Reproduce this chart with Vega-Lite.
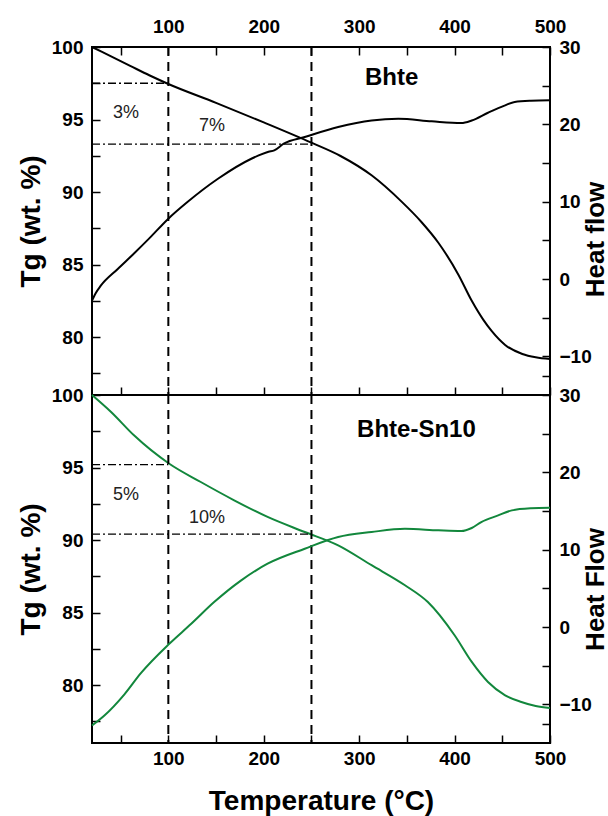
{
  "$schema": "https://vega.github.io/schema/vega-lite/v6.json",
  "padding": {"left": 16, "top": 16, "right": 0, "bottom": 0},
  "spacing": 0,
  "bounds": "flush",
  "config": {
    "font": "Liberation Sans",
    "view": {"stroke": "#000", "strokeWidth": 2},
    "axis": {
      "domain": false, "grid": false,
      "labelFont": "Liberation Sans", "labelFontSize": 19, "labelFontWeight": "bold", "labelColor": "#000",
      "labelFlush": false, "labelOverlap": false, "labelPadding": 17,
      "tickColor": "#000", "tickWidth": 1.5, "tickSize": -8,
      "titleFont": "Liberation Sans", "titleFontSize": 28, "titleFontWeight": "bold", "titleColor": "#000"
    }
  },
  "datasets": {
    "topTG": [
      {"T": 20, "tg": 100}, {"T": 40, "tg": 99.35}, {"T": 60, "tg": 98.7}, {"T": 80, "tg": 98.05},
      {"T": 100, "tg": 97.45}, {"T": 150, "tg": 96.15}, {"T": 200, "tg": 94.8}, {"T": 250, "tg": 93.4},
      {"T": 280, "tg": 92.5}, {"T": 313, "tg": 91.15}, {"T": 345, "tg": 89.3}, {"T": 365, "tg": 87.95},
      {"T": 383, "tg": 86.5}, {"T": 404, "tg": 84.3}, {"T": 418, "tg": 82.5}, {"T": 430, "tg": 81.2},
      {"T": 439, "tg": 80.4}, {"T": 453, "tg": 79.45}, {"T": 471, "tg": 78.83}, {"T": 485, "tg": 78.6},
      {"T": 500, "tg": 78.48}
    ],
    "topHF": [
      {"T": 20, "hf": -2.8}, {"T": 24, "hf": -1.8}, {"T": 29, "hf": -0.9}, {"T": 47, "hf": 1.3}, {"T": 64, "hf": 3.3},
      {"T": 80, "hf": 5.25}, {"T": 100, "hf": 7.8}, {"T": 120, "hf": 9.95}, {"T": 152, "hf": 12.96},
      {"T": 187, "hf": 15.55}, {"T": 205, "hf": 16.45}, {"T": 211, "hf": 16.63}, {"T": 221, "hf": 17.5},
      {"T": 243, "hf": 18.36}, {"T": 278, "hf": 19.65}, {"T": 313, "hf": 20.5}, {"T": 341, "hf": 20.72},
      {"T": 376, "hf": 20.39}, {"T": 407, "hf": 20.17}, {"T": 418, "hf": 20.5}, {"T": 435, "hf": 21.5},
      {"T": 453, "hf": 22.46}, {"T": 463, "hf": 22.9}, {"T": 480, "hf": 23.05}, {"T": 500, "hf": 23.1}
    ],
    "botTG": [
      {"T": 20, "tg": 100}, {"T": 40, "tg": 98.83}, {"T": 64, "tg": 97.22}, {"T": 101, "tg": 95.26},
      {"T": 134, "tg": 94.0}, {"T": 169, "tg": 92.74}, {"T": 204, "tg": 91.59}, {"T": 243, "tg": 90.55},
      {"T": 278, "tg": 89.63}, {"T": 313, "tg": 88.26}, {"T": 348, "tg": 86.88}, {"T": 372, "tg": 85.72},
      {"T": 400, "tg": 83.43}, {"T": 418, "tg": 81.59}, {"T": 435, "tg": 80.21}, {"T": 453, "tg": 79.29},
      {"T": 470, "tg": 78.83}, {"T": 485, "tg": 78.55}, {"T": 500, "tg": 78.41}
    ],
    "botHF": [
      {"T": 20, "hf": -12.73}, {"T": 33, "hf": -11.44}, {"T": 54, "hf": -8.7}, {"T": 71, "hf": -6.0},
      {"T": 101, "hf": -2.17}, {"T": 124, "hf": 0.41}, {"T": 148, "hf": 3.22}, {"T": 176, "hf": 6.0},
      {"T": 204, "hf": 8.18}, {"T": 243, "hf": 10.12}, {"T": 278, "hf": 11.63}, {"T": 313, "hf": 12.28},
      {"T": 348, "hf": 12.7}, {"T": 383, "hf": 12.5}, {"T": 407, "hf": 12.41}, {"T": 418, "hf": 12.8},
      {"T": 428, "hf": 13.57}, {"T": 445, "hf": 14.4}, {"T": 460, "hf": 15.08}, {"T": 480, "hf": 15.35},
      {"T": 500, "hf": 15.42}
    ],
    "vlines": [{"T": 100}, {"T": 250}],
    "topH": [{"T1": 20, "T2": 100, "tg": 97.5}, {"T1": 20, "T2": 250, "tg": 93.3}],
    "botH": [{"T1": 20, "T2": 100, "tg": 95.2}, {"T1": 20, "T2": 250, "tg": 90.4}],
    "topPct": [{"T": 55.6, "tg": 95.45, "label": "3%"}, {"T": 145.8, "tg": 94.52, "label": "7%"}],
    "topName": [{"T": 334, "tg": 97.86, "label": "Bhte"}],
    "botPct": [{"T": 55.6, "tg": 93.1, "label": "5%"}, {"T": 140.5, "tg": 91.5, "label": "10%"}],
    "botName": [{"T": 360, "tg": 97.6, "label": "Bhte-Sn10"}]
  },
  "resolve": {"scale": {"x": "independent", "y": "independent"}},
  "vconcat": [
    {
      "width": 458, "height": 348,
      "layer": [
        {
          "layer": [
            {
              "data": {"name": "topTG"},
              "mark": {"type": "line", "color": "#000", "strokeWidth": 2, "interpolate": "monotone"},
              "encoding": {
                "x": {"field": "T", "type": "quantitative", "scale": {"domain": [20, 500], "nice": false, "zero": false},
                  "axis": {"orient": "top", "title": null, "labelPadding": 19, "values": [50, 100, 150, 200, 250, 300, 350, 400, 450, 500], "labelExpr": "datum.value % 100 === 0 ? datum.label : ''"}},
                "y": {"field": "tg", "type": "quantitative", "scale": {"domain": [76, 100], "nice": false, "zero": false},
                  "axis": {"title": "Tg (wt. %)", "titlePadding": 6, "values": [77.5, 80, 82.5, 85, 87.5, 90, 92.5, 95, 97.5, 100], "labelExpr": "datum.value % 5 === 0 ? datum.label : ''"}}
              }
            },
            {
              "data": {"name": "vlines"},
              "mark": {"type": "rule", "color": "#000", "strokeWidth": 2, "strokeDash": [9, 6]},
              "encoding": {
                "x": {"field": "T", "type": "quantitative", "scale": {"domain": [20, 500], "nice": false, "zero": false},
                  "axis": {"orient": "bottom", "title": null, "labels": false, "values": [50, 100, 150, 200, 250, 300, 350, 400, 450, 500]}}
              }
            },
            {
              "data": {"name": "topH"},
              "mark": {"type": "rule", "color": "#000", "strokeWidth": 1.3, "strokeDash": [8, 3, 2, 3]},
              "encoding": {
                "x": {"field": "T1", "type": "quantitative", "scale": {"domain": [20, 500], "nice": false, "zero": false}, "axis": null},
                "x2": {"field": "T2"},
                "y": {"field": "tg", "type": "quantitative", "scale": {"domain": [76, 100], "nice": false, "zero": false}, "axis": null}
              }
            },
            {
              "data": {"name": "topPct"},
              "mark": {"type": "text", "font": "Liberation Sans", "fontSize": 18, "color": "#222", "align": "center", "baseline": "middle"},
              "encoding": {
                "x": {"field": "T", "type": "quantitative", "scale": {"domain": [20, 500], "nice": false, "zero": false}, "axis": null},
                "y": {"field": "tg", "type": "quantitative", "scale": {"domain": [76, 100], "nice": false, "zero": false}, "axis": null},
                "text": {"field": "label"}
              }
            },
            {
              "data": {"name": "topName"},
              "mark": {"type": "text", "font": "Liberation Sans", "fontSize": 24, "fontWeight": "bold", "color": "#000", "align": "center", "baseline": "middle"},
              "encoding": {
                "x": {"field": "T", "type": "quantitative", "scale": {"domain": [20, 500], "nice": false, "zero": false}, "axis": null},
                "y": {"field": "tg", "type": "quantitative", "scale": {"domain": [76, 100], "nice": false, "zero": false}, "axis": null},
                "text": {"field": "label"}
              }
            }
          ],
          "resolve": {"axis": {"x": "independent", "y": "independent"}}
        },
        {
          "data": {"name": "topHF"},
          "mark": {"type": "line", "color": "#000", "strokeWidth": 2, "interpolate": "monotone"},
          "encoding": {
            "x": {"field": "T", "type": "quantitative", "scale": {"domain": [20, 500], "nice": false, "zero": false}, "axis": null},
            "y": {"field": "hf", "type": "quantitative", "scale": {"domain": [-15, 30], "nice": false, "zero": false},
              "axis": {"orient": "right", "title": "Heat flow", "titleFontSize": 26, "titleAngle": -90, "titleBaseline": "top", "titlePadding": -9, "titleY": 192, "labelPadding": 17, "values": [-12.5, -10, -5, 0, 5, 10, 15, 20, 25, 30], "labelExpr": "datum.value % 10 === 0 ? datum.label : ''"}}
          }
        }
      ],
      "resolve": {"scale": {"y": "independent"}}
    },
    {
      "width": 458, "height": 348,
      "layer": [
        {
          "layer": [
            {
              "data": {"name": "botTG"},
              "mark": {"type": "line", "color": "#12873c", "strokeWidth": 2, "interpolate": "monotone"},
              "encoding": {
                "x": {"field": "T", "type": "quantitative", "scale": {"domain": [20, 500], "nice": false, "zero": false},
                  "axis": {"orient": "bottom", "title": "Temperature (°C)", "titlePadding": 19, "labelPadding": 14, "values": [50, 100, 150, 200, 250, 300, 350, 400, 450, 500], "labelExpr": "datum.value % 100 === 0 ? datum.label : ''"}},
                "y": {"field": "tg", "type": "quantitative", "scale": {"domain": [76, 100], "nice": false, "zero": false},
                  "axis": {"title": "Tg (wt. %)", "titlePadding": 6, "values": [77.5, 80, 82.5, 85, 87.5, 90, 92.5, 95, 97.5, 100], "labelExpr": "datum.value % 5 === 0 ? datum.label : ''"}}
              }
            },
            {
              "data": {"name": "vlines"},
              "mark": {"type": "rule", "color": "#000", "strokeWidth": 2, "strokeDash": [9, 6]},
              "encoding": {
                "x": {"field": "T", "type": "quantitative", "scale": {"domain": [20, 500], "nice": false, "zero": false}, "axis": null}
              }
            },
            {
              "data": {"name": "botH"},
              "mark": {"type": "rule", "color": "#000", "strokeWidth": 1.3, "strokeDash": [8, 3, 2, 3]},
              "encoding": {
                "x": {"field": "T1", "type": "quantitative", "scale": {"domain": [20, 500], "nice": false, "zero": false}, "axis": null},
                "x2": {"field": "T2"},
                "y": {"field": "tg", "type": "quantitative", "scale": {"domain": [76, 100], "nice": false, "zero": false}, "axis": null}
              }
            },
            {
              "data": {"name": "botPct"},
              "mark": {"type": "text", "font": "Liberation Sans", "fontSize": 18, "color": "#222", "align": "center", "baseline": "middle"},
              "encoding": {
                "x": {"field": "T", "type": "quantitative", "scale": {"domain": [20, 500], "nice": false, "zero": false}, "axis": null},
                "y": {"field": "tg", "type": "quantitative", "scale": {"domain": [76, 100], "nice": false, "zero": false}, "axis": null},
                "text": {"field": "label"}
              }
            },
            {
              "data": {"name": "botName"},
              "mark": {"type": "text", "font": "Liberation Sans", "fontSize": 24, "fontWeight": "bold", "color": "#000", "align": "center", "baseline": "middle"},
              "encoding": {
                "x": {"field": "T", "type": "quantitative", "scale": {"domain": [20, 500], "nice": false, "zero": false}, "axis": null},
                "y": {"field": "tg", "type": "quantitative", "scale": {"domain": [76, 100], "nice": false, "zero": false}, "axis": null},
                "text": {"field": "label"}
              }
            }
          ],
          "resolve": {"axis": {"x": "independent", "y": "independent"}}
        },
        {
          "data": {"name": "botHF"},
          "mark": {"type": "line", "color": "#12873c", "strokeWidth": 2, "interpolate": "monotone"},
          "encoding": {
            "x": {"field": "T", "type": "quantitative", "scale": {"domain": [20, 500], "nice": false, "zero": false}, "axis": null},
            "y": {"field": "hf", "type": "quantitative", "scale": {"domain": [-15, 30], "nice": false, "zero": false},
              "axis": {"orient": "right", "title": "Heat Flow", "titleFontSize": 26, "titleAngle": -90, "titleBaseline": "top", "titlePadding": -9, "titleY": 194, "labelPadding": 17, "values": [-12.5, -10, -5, 0, 5, 10, 15, 20, 25, 30], "labelExpr": "datum.value % 10 === 0 ? datum.label : ''"}}
          }
        }
      ],
      "resolve": {"scale": {"y": "independent"}}
    }
  ]
}
